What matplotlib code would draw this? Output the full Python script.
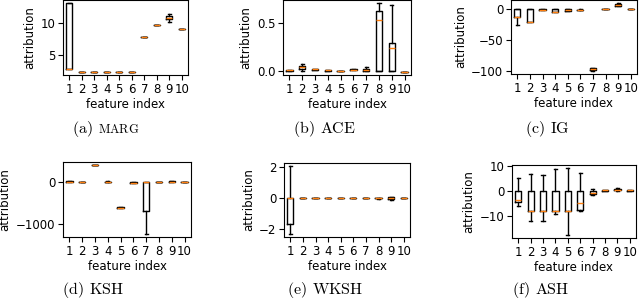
import matplotlib
matplotlib.use("Agg")
import matplotlib.pyplot as plt

plt.rcParams['mathtext.fontset'] = 'cm'
plt.rcParams['font.size'] = 8.5

features = [1, 2, 3, 4, 5, 6, 7, 8, 9, 10]

# (a) MARG
marg_med = [2.7, 2.3, 2.3, 2.3, 2.3, 2.3, 7.85, 9.7, 10.9, 9.15]
marg_q1 = [2.7, 2.3, 2.3, 2.3, 2.3, 2.3, 7.85, 9.7, 10.75, 9.15]
marg_q3 = [13.2, 2.3, 2.3, 2.3, 2.3, 2.3, 7.85, 9.7, 11.2, 9.15]
marg_lo = [2.7, 2.3, 2.3, 2.3, 2.3, 2.3, 7.85, 9.7, 10.3, 9.15]
marg_hi = [13.2, 2.3, 2.3, 2.3, 2.3, 2.3, 7.85, 9.7, 11.45, 9.15]

# (b) ACE
ace_med = [0.01, 0.04, 0.02, 0.01, 0.005, 0.015, 0.01, 0.54, 0.245, -0.005]
ace_q1 = [0.005, 0.02, 0.015, 0.005, 0.005, 0.01, 0.0, 0.0, 0.0, -0.005]
ace_q3 = [0.015, 0.055, 0.025, 0.012, 0.005, 0.02, 0.02, 0.63, 0.297, -0.005]
ace_lo = [0.005, 0.0, 0.015, 0.005, 0.005, 0.01, 0.0, 0.0, 0.0, -0.005]
ace_hi = [0.015, 0.07, 0.025, 0.012, 0.005, 0.025, 0.04, 0.71, 0.69, -0.005]

# (c) IG
ig_med = [-13, -20, -1, -4, -2, -1.5, -97.5, 0.5, 7.5, 0]
ig_q1 = [-13, -20, -1.5, -5, -3, -2, -99, 0.3, 6, 0]
ig_q3 = [0, 0, 0, 0, 0, -0.5, -96, 0.7, 9, 0.2]
ig_lo = [-25, -20, -1.5, -5, -3.5, -2, -99.5, 0.3, 5.5, 0]
ig_hi = [0, 0, 0.5, 0, 1, 0, -95.5, 0.7, 9.5, 0.2]

# (d) KSH
ksh_med = [0, 0, 384, 0, -620, -25, 0, 0, 0, 0]
ksh_q1 = [-5, 0, 384, 0, -630, -25, -704, 0, 0, 0]
ksh_q3 = [10, 0, 384, 0, -600, -20, 0, 0, 5, 0]
ksh_lo = [-5, 0, 384, 0, -635, -30, -1240, 0, 0, 0]
ksh_hi = [15, 0, 384, 5, -595, -20, 0, 0, 5, 0]

# (e) WKSH
wksh_med = [0, 0, 0, 0, 0, 0, 0, 0, 0, 0]
wksh_q1 = [-1.68, 0, 0, 0, 0, 0, 0, 0, -0.08, 0]
wksh_q3 = [0, 0, 0, 0, 0, 0, 0, 0, 0.05, 0]
wksh_lo = [-2.3, 0, 0, 0, 0, 0, 0, -0.03, -0.1, 0]
wksh_hi = [2.05, 0, 0, 0, 0, 0, 0, 0.03, 0.08, 0]

# (f) ASH
ash_med = [-3.6, -7.8, -7.8, -7.8, -7.8, -4.8, -0.5, 0.5, 0.7, 0.4]
ash_q1 = [-4.2, -8.0, -8.0, -8.0, -8.0, -7.6, -1.0, 0.3, 0.4, 0.3]
ash_q3 = [0, 0, 0, 0, 0, 0, 0.2, 0.6, 1.0, 0.5]
ash_lo = [-6.0, -12.0, -12.0, -9.2, -17.3, -7.8, -1.3, 0.3, 0.3, 0.3]
ash_hi = [5.5, 6.8, 6.6, 9.0, 9.2, 7.3, 1.0, 0.7, 1.2, 0.5]

panel_letters = ["(a)", "(b)", "(c)", "(d)", "(e)", "(f)"]
panel_names = ["MARG", "ACE", "IG", "KSH", "WKSH", "ASH"]
panel_yticks = [[5, 10], [0.0, 0.5], [-100, -50, 0], [-1000, 0], [-2, 0, 2], [-10, 0, 10]]

panels = [
    (marg_med, marg_q1, marg_q3, marg_lo, marg_hi),
    (ace_med, ace_q1, ace_q3, ace_lo, ace_hi),
    (ig_med, ig_q1, ig_q3, ig_lo, ig_hi),
    (ksh_med, ksh_q1, ksh_q3, ksh_lo, ksh_hi),
    (wksh_med, wksh_q1, wksh_q3, wksh_lo, wksh_hi),
    (ash_med, ash_q1, ash_q3, ash_lo, ash_hi),
]

W, H = 640, 300
fig = plt.figure(figsize=(6.4, 3.0), dpi=100)

# axes boxes in pixels: left, top, right, bottom
boxes = [
    (63, 0, 188, 75),
    (283, 0, 411, 75),
    (511, 0, 637, 74),
    (63, 162, 191, 237),
    (284, 163, 410, 237),
    (512, 165, 636, 238),
]
cap_left = [72, 293, 525, 62, 287, 512]
cap_base = [133, 133, 133, 294, 294, 294]

for i, (stats_arr, box) in enumerate(zip(panels, boxes)):
    l, t, r, b = box
    ax = fig.add_axes([l / W, 1 - b / H, (r - l) / W, (b - t) / H])
    med, q1, q3, lo, hi = stats_arr
    stats = [dict(med=m, q1=a, q3=c, whislo=d, whishi=e, label=str(f))
             for f, m, a, c, d, e in zip(features, med, q1, q3, lo, hi)]
    ax.bxp(stats, positions=features, widths=0.5, showfliers=False,
           medianprops=dict(color='#ff7f0e', linewidth=1.0),
           boxprops=dict(color='black', linewidth=1.0),
           whiskerprops=dict(color='black', linewidth=1.0),
           capprops=dict(color='black', linewidth=1.0))
    ax.set_yticks(panel_yticks[i])
    ax.set_xlim(0.5, 10.5)
    ax.set_xlabel("feature index", fontsize=8.5, labelpad=2)
    ax.set_ylabel("attribution", fontsize=8.5, labelpad=3)
    ax.tick_params(labelsize=8.5, pad=2)

fig.canvas.draw()
renderer = fig.canvas.get_renderer()
for i in range(6):
    yb = 1 - cap_base[i] / H
    t1 = fig.text(cap_left[i] / W, yb, r"$\mathrm{" + panel_letters[i] + r"}$",
                  fontsize=11.5, ha='left', va='baseline')
    bb = t1.get_window_extent(renderer)
    x2 = bb.x1 / (fig.dpi * 6.4) + 5 / W
    if panel_names[i] == "MARG":
        fig.text(x2, yb, r"$\mathrm{MARG}$", fontsize=9, ha='left', va='baseline')
    else:
        fig.text(x2, yb, r"$\mathrm{" + panel_names[i] + r"}$", fontsize=11.5,
                 ha='left', va='baseline')

fig.savefig("out.png", dpi=100)
